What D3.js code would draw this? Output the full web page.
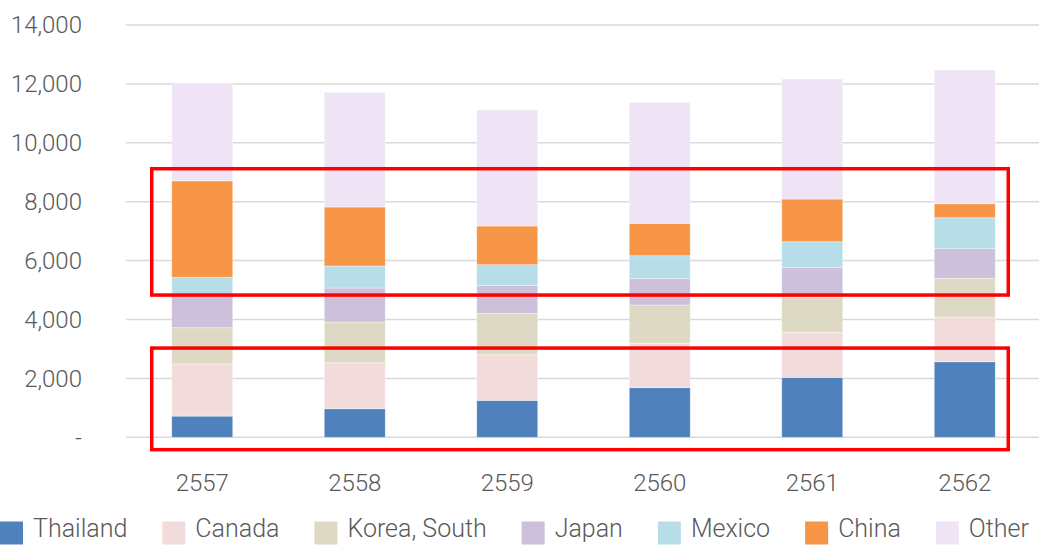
<!DOCTYPE html>
<html>
<head>
<meta charset="utf-8">
<script src="https://cdn.jsdelivr.net/npm/d3@7"></script>
<style>
html,body{margin:0;padding:0;background:#fff;}
svg{display:block;}
text{font-family:Roboto, "Noto Sans", sans-serif;font-weight:300;fill:#595959;}
</style>
</head>
<body>
<svg id="chart" width="1039" height="545"></svg>
<script>
// ---- data ----
const years = ["2557","2558","2559","2560","2561","2562"];
const seriesNames = ["Thailand","Canada","Korea, South","Japan","Mexico","China","Other"];
const thailand = [720, 970, 1255, 1685, 2035, 2565];
const canada   = [1770, 1560, 1550, 1505, 1530, 1520];
const korea    = [1230, 1385, 1405, 1300, 1200, 1315];
const japan    = [1110, 1155, 940, 895, 995, 1005];
const mexico   = [600, 745, 710, 780, 880, 1050];
const china    = [3280, 2005, 1315, 1100, 1450, 475];
const other    = [3290, 3895, 3940, 4110, 4075, 4540];
const yTicks = [0, 2000, 4000, 6000, 8000, 10000, 12000, 14000];
const colors = ["#4f81bd","#f2dcdb","#ddd9c4","#ccc0da","#b7dee8","#f79646","#efe4f5"];

const seriesValues = [thailand, canada, korea, japan, mexico, china, other];
const rows = years.map((y, i) => {
  const r = {year: y};
  seriesNames.forEach((s, k) => r[s] = seriesValues[k][i]);
  return r;
});

const svg = d3.select("#chart");
const x = d3.scaleBand().domain(years).range([126, 1041]).paddingInner(0.6).paddingOuter(0.3);
const y = d3.scaleLinear().domain([0, 14000]).range([437.3, 25]);

// gridlines
svg.append("g").selectAll("line").data(yTicks).join("line")
  .attr("x1", 126).attr("x2", 1039)
  .attr("y1", d => y(d)).attr("y2", d => y(d))
  .attr("stroke", "#d9d9d9").attr("stroke-width", 1.5);

// y axis labels
const fmt = d3.format(",");
svg.append("g").selectAll("text").data(yTicks).join("text")
  .attr("x", 82).attr("y", d => y(d))
  .attr("dy", "0.35em")
  .attr("text-anchor", "end")
  .style("font-size", "24px")
  .text(d => d === 0 ? "-" : fmt(d));

// stacked bars
const stack = d3.stack().keys(seriesNames)(rows);
svg.append("g").selectAll("g").data(stack).join("g")
  .attr("fill", (d, i) => colors[i])
  .selectAll("rect").data(d => d).join("rect")
  .attr("x", d => x(d.data.year))
  .attr("width", x.bandwidth())
  .attr("y", d => y(d[1]))
  .attr("height", d => y(d[0]) - y(d[1]))
  .attr("stroke", "#ffffff").attr("stroke-opacity", 0.5).attr("stroke-width", 0.75);

// x labels
svg.append("g").selectAll("text").data(years).join("text")
  .attr("x", d => x(d) + x.bandwidth() / 2)
  .attr("y", 491)
  .attr("text-anchor", "middle")
  .style("font-size", "24px")
  .text(d => d);

// red annotation boxes
const boxes = [
  {top: 9120, bottom: 4830},
  {top: 3030, bottom: -420}
];
svg.append("g").selectAll("rect").data(boxes).join("rect")
  .attr("x", x(years[0]) - 20)
  .attr("width", (x(years[years.length - 1]) + x.bandwidth() + 13) - (x(years[0]) - 20))
  .attr("y", d => y(d.top))
  .attr("height", d => y(d.bottom) - y(d.top))
  .attr("fill", "none").attr("stroke", "#ff0000").attr("stroke-width", 3.5);

// legend
const legend = svg.append("g");
let lx = 0;
seriesNames.forEach((s, i) => {
  const g = legend.append("g").attr("transform", `translate(${lx},0)`);
  g.append("rect").attr("x", 0).attr("y", 521.5).attr("width", 23).attr("height", 23).attr("fill", colors[i]);
  const t = g.append("text").attr("x", 33).attr("y", 537).style("font-size", "25px").text(s);
  const w = t.node().getComputedTextLength();
  lx += 33 + w + 35;
});
</script>
</body>
</html>
